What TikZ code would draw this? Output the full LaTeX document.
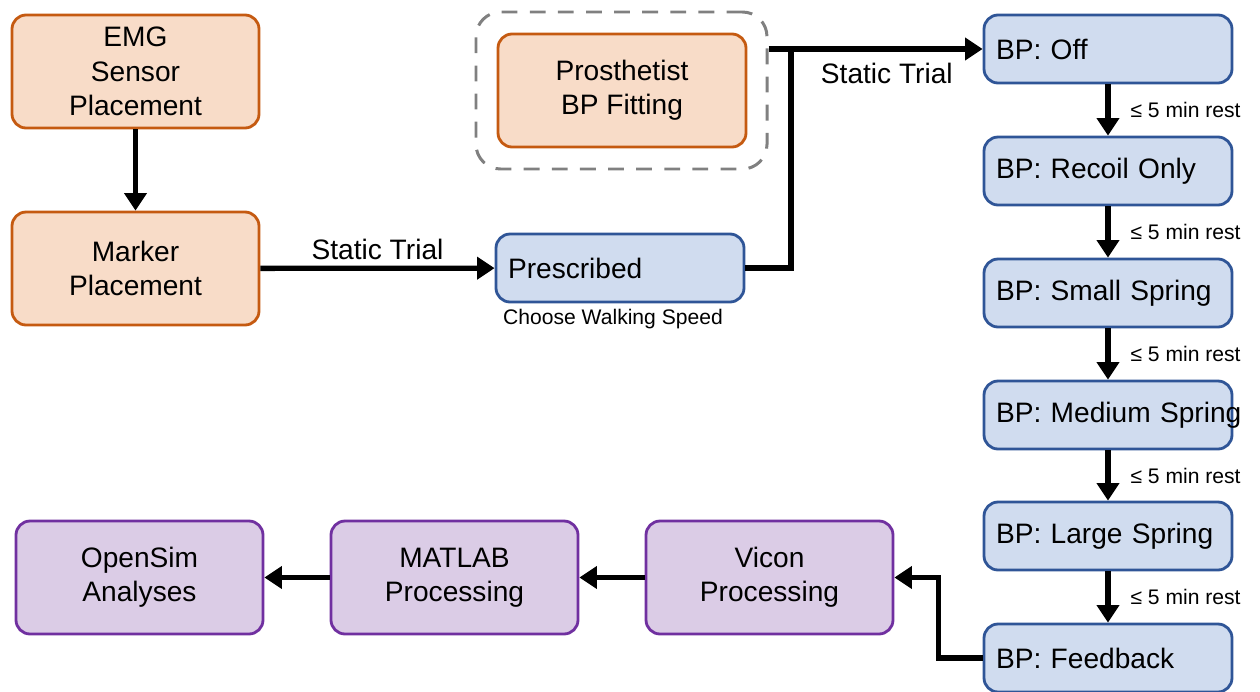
\documentclass[tikz,border=0pt]{standalone}
\usepackage{fontspec}
\setmainfont{Liberation Sans}
\usetikzlibrary{arrows.meta,positioning}

\definecolor{orgfill}{HTML}{F8DCC8}
\definecolor{orgline}{HTML}{C55A11}
\definecolor{blufill}{HTML}{D0DCEF}
\definecolor{bluline}{HTML}{2F5597}
\definecolor{purfill}{HTML}{DBCCE6}
\definecolor{purline}{HTML}{7030A0}
\definecolor{grpline}{HTML}{808080}

\begin{document}
\begin{tikzpicture}[
  box/.style={draw, line width=1.6pt, rounded corners=8pt, minimum width=4.94cm,
    minimum height=2.26cm, align=center, font=\fontsize{16}{19.5}\selectfont},
  prep/.style={box, draw=orgline, fill=orgfill},
  proc/.style={box, draw=purline, fill=purfill},
  trial/.style={box, draw=bluline, fill=blufill, minimum height=1.36cm,
    text width=4.48cm, inner xsep=0.24cm, align=left},
  group/.style={draw=grpline, line width=1.7pt, rounded corners=14pt,
    dash pattern=on 9pt off 7pt, minimum width=5.82cm, minimum height=3.14cm},
  flow/.style={line width=3pt, -{Triangle[length=10pt,width=12.5pt]}},
  link/.style={line width=3pt},
  note/.style={font=\fontsize{12}{14}\selectfont},
  tag/.style={font=\fontsize{16}{19}\selectfont},
]
  \useasboundingbox (0,0) rectangle (25.2,-13.82);

  % setup before walking
  \node[prep] (emg) at (2.71,-1.43) {EMG\\Sensor\\Placement};
  \node[prep] (marker) at (2.71,-5.37) {Marker\\Placement};
  \node[group] (grp) at (12.43,-1.81) {};
  \node[prep, minimum width=4.96cm] (fit) at (12.44,-1.81) {Prosthetist\\BP Fitting};
  \node[trial] (presc) at (12.40,-5.36) {Prescribed};
  \node[note, below=0pt of presc, xshift=-0.14cm] (speed) {Choose Walking Speed};

  % walking conditions
  \node[trial] (off) at (22.16,-0.98) {BP: Off};
  \node[trial] (recoil) at (22.16,-3.42) {BP: Recoil Only};
  \node[trial] (small) at (22.16,-5.86) {BP: Small Spring};
  \node[trial] (medium) at (22.16,-8.30) {\mbox{BP: Medium Spring}};
  \node[trial] (large) at (22.16,-10.72) {BP: Large Spring};
  \node[trial] (feedback) at (22.16,-13.16) {BP: Feedback};

  % processing chain
  \node[proc] (vicon) at (15.39,-11.55) {Vicon\\Processing};
  \node[proc] (matlab) at (9.09,-11.55) {MATLAB\\Processing};
  \node[proc] (opensim) at (2.79,-11.55) {OpenSim\\Analyses};

  % arrows
  \draw[flow] (emg) -- (marker);
  \draw[flow] (marker) -- node[tag, above] {Static Trial} (presc);
  \coordinate (join) at (15.82,-0.98);
  \draw[link] (grp.east |- join) -- (join);
  \draw[flow] (presc.east) -| (join) -- node[tag, below=3pt] {Static Trial} (off.west);
  \foreach \a/\b in {off/recoil, recoil/small, small/medium, medium/large, large/feedback}
    \draw[flow] (\a) -- node[note, right=0.28cm] {≤ 5 min rest} (\b);
  \draw[flow] (feedback.west) -- ++(-0.88,0) |- (vicon.east);
  \draw[flow] (vicon) -- (matlab);
  \draw[flow] (matlab) -- (opensim);
\end{tikzpicture}
\end{document}
